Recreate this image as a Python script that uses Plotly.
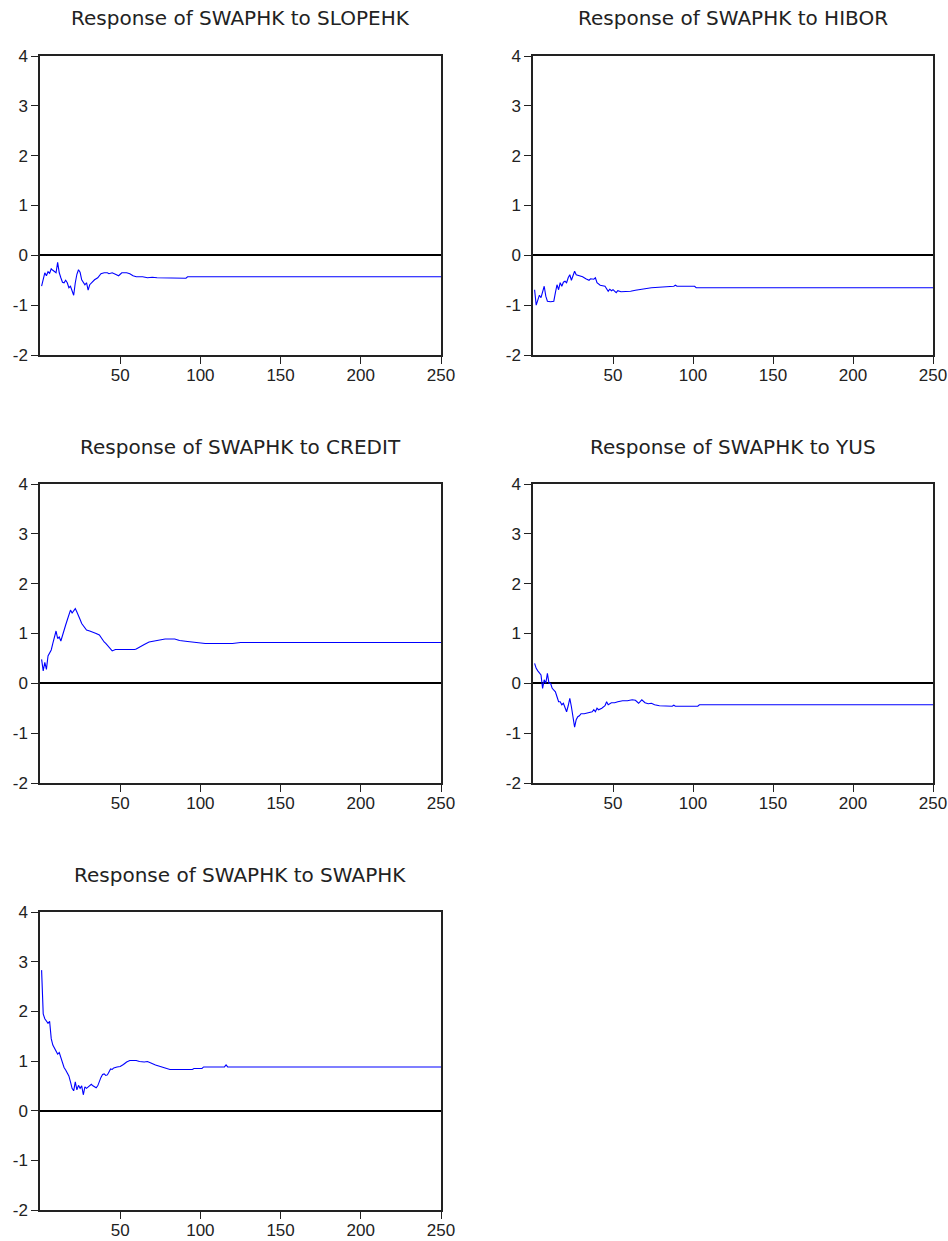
import plotly.graph_objects as go

# ---- data ----
slope_p = [1, 2, 3, 4, 5, 6, 7, 8, 9, 10, 11, 12, 13, 14, 15, 16, 17, 18, 19, 20, 21, 22, 23, 24, 25, 26, 27, 28, 29, 30,
           31, 32, 34, 36, 38, 40, 42, 43, 45, 47, 49, 51, 54, 56, 58, 60, 64, 67, 70, 73, 80, 91, 92, 250]
slope_v = [-0.62, -0.46, -0.35, -0.41, -0.33, -0.36, -0.27, -0.30, -0.32, -0.35, -0.14, -0.35, -0.45, -0.54, -0.55,
           -0.50, -0.55, -0.65, -0.62, -0.72, -0.80, -0.55, -0.38, -0.29, -0.34, -0.49, -0.55, -0.59, -0.55, -0.70,
           -0.59, -0.55, -0.49, -0.45, -0.37, -0.35, -0.35, -0.37, -0.35, -0.38, -0.41, -0.35, -0.35, -0.37, -0.41,
           -0.43, -0.43, -0.45, -0.44, -0.45, -0.45, -0.46, -0.43, -0.43]

hibor_p = [1, 2, 3, 4, 5, 6, 7, 8, 9, 11, 13, 14, 15, 16, 17, 18, 19, 20, 21, 22, 23, 24, 25, 26, 27, 29, 31, 33, 35,
           36, 38, 39, 40, 42, 45, 47, 48, 49, 50, 52, 53, 55, 58, 61, 64, 67, 70, 74, 78, 83, 88, 89, 90, 101, 102, 250]
hibor_v = [-0.69, -1.00, -0.90, -0.80, -0.85, -0.75, -0.62, -0.82, -0.92, -0.93, -0.92, -0.75, -0.59, -0.69, -0.55,
           -0.62, -0.54, -0.52, -0.55, -0.45, -0.39, -0.50, -0.39, -0.32, -0.39, -0.41, -0.43, -0.47, -0.50, -0.47,
           -0.48, -0.45, -0.55, -0.60, -0.62, -0.72, -0.68, -0.71, -0.69, -0.75, -0.71, -0.73, -0.73, -0.72, -0.70,
           -0.69, -0.67, -0.65, -0.64, -0.63, -0.62, -0.60, -0.62, -0.62, -0.65, -0.65]

credit_p = [1, 2, 3, 4, 5, 6, 7, 8, 9, 10, 11, 12, 13, 14, 15, 16, 17, 18, 19, 20, 21, 22, 23, 24, 25, 26, 27, 28, 29,
            31, 33, 35, 37, 38, 40, 41, 43, 45, 47, 49, 51, 53, 59, 60, 62, 65, 68, 72, 75, 78, 84, 87, 92, 97, 103,
            115, 120, 125, 250]
credit_v = [0.48, 0.25, 0.42, 0.28, 0.55, 0.62, 0.67, 0.80, 0.95, 1.05, 0.90, 0.93, 0.85, 0.97, 1.05, 1.17, 1.27, 1.37,
            1.47, 1.41, 1.47, 1.50, 1.43, 1.37, 1.28, 1.20, 1.15, 1.10, 1.07, 1.05, 1.03, 1.00, 0.97, 0.92, 0.83, 0.80,
            0.73, 0.65, 0.68, 0.68, 0.67, 0.68, 0.68, 0.69, 0.73, 0.78, 0.83, 0.85, 0.87, 0.89, 0.89, 0.86, 0.84, 0.82,
            0.80, 0.80, 0.80, 0.82, 0.82]

yus_p = [1, 2, 3, 4, 5, 6, 7, 8, 9, 10, 11, 12, 13, 14, 15, 16, 17, 18, 19, 20, 21, 22, 23, 24, 25, 26, 27, 28, 29, 30,
         32, 33, 34, 36, 37, 38, 39, 40, 41, 43, 45, 46, 47, 49, 51, 53, 56, 59, 62, 64, 66, 68, 70, 72, 74, 76, 79,
         87, 88, 89, 103, 104, 250]
yus_v = [0.40, 0.30, 0.25, 0.20, 0.17, -0.10, 0.07, 0.00, 0.20, 0.00, 0.00, -0.10, -0.13, -0.17, -0.27, -0.37, -0.37,
         -0.43, -0.40, -0.47, -0.57, -0.45, -0.30, -0.47, -0.70, -0.88, -0.73, -0.67, -0.65, -0.61, -0.61, -0.60,
         -0.59, -0.57, -0.57, -0.53, -0.57, -0.50, -0.53, -0.50, -0.45, -0.37, -0.43, -0.39, -0.39, -0.37, -0.35,
         -0.35, -0.33, -0.34, -0.40, -0.33, -0.39, -0.41, -0.40, -0.43, -0.45, -0.46, -0.44, -0.46, -0.46, -0.43, -0.43]

swap_p = [1, 2, 3, 4, 5, 6, 7, 8, 9, 10, 11, 12, 13, 14, 15, 16, 17, 18, 19, 20, 21, 22, 23, 24, 25, 26, 27, 28, 29,
          30, 31, 32, 33, 34, 35, 36, 37, 38, 39, 40, 41, 42, 43, 44, 45, 46, 48, 50, 52, 54, 56, 60, 62, 65, 67, 69,
          72, 75, 78, 81, 95, 96, 101, 102, 115, 116, 117, 250]
swap_v = [2.83, 1.95, 1.85, 1.80, 1.76, 1.80, 1.45, 1.32, 1.25, 1.18, 1.14, 1.17, 1.08, 0.95, 0.87, 0.82, 0.77, 0.70,
          0.58, 0.45, 0.40, 0.58, 0.42, 0.51, 0.45, 0.50, 0.32, 0.48, 0.45, 0.48, 0.52, 0.53, 0.50, 0.47, 0.46, 0.50,
          0.60, 0.67, 0.73, 0.74, 0.71, 0.72, 0.78, 0.84, 0.83, 0.86, 0.88, 0.89, 0.93, 0.98, 1.01, 1.01, 0.99, 0.98,
          0.99, 0.96, 0.92, 0.89, 0.86, 0.83, 0.83, 0.85, 0.85, 0.88, 0.88, 0.92, 0.88, 0.88]

titles = ["Response of SWAPHK to SLOPEHK", "Response of SWAPHK to HIBOR",
          "Response of SWAPHK to CREDIT", "Response of SWAPHK to YUS",
          "Response of SWAPHK to SWAPHK"]
x_ticks = [50, 100, 150, 200, 250]
y_ticks = [-2, -1, 0, 1, 2, 3, 4]
y_tick_text = ["-2", "-1", "0", "1", "2", "3", "4"]

series = [(slope_p, slope_v), (hibor_p, hibor_v), (credit_p, credit_v), (yus_p, yus_v), (swap_p, swap_v)]

# ---- layout geometry ----
W, H = 948, 1241
col_px = [(40, 441), (533, 933)]
row_px = [(56, 355), (484, 783), (912, 1210)]
title_y_px = [18, 447, 875]

FONT = "Liberation Sans, Arial, sans-serif"
TFONT = "DejaVu Sans, Verdana, sans-serif"
fig = go.Figure()
layout = dict(width=W, height=H, margin=dict(l=0, r=0, t=0, b=0, autoexpand=False),
              paper_bgcolor="white", plot_bgcolor="white", showlegend=False,
              font=dict(family=FONT, color="#111"))
annotations = []
for i, (px, vals) in enumerate(series):
    r, c = divmod(i, 2)
    n = i + 1
    xa = "x" if n == 1 else f"x{n}"
    ya = "y" if n == 1 else f"y{n}"
    fig.add_trace(go.Scatter(x=px, y=vals, mode="lines", line=dict(color="#0000FF", width=1.1),
                             xaxis=xa, yaxis=ya, hoverinfo="skip"))
    x0, x1 = col_px[c]
    y0, y1 = row_px[r]
    common = dict(showline=True, linecolor="#222", linewidth=1.5, mirror=True, ticks="outside",
                  ticklen=7, tickwidth=1.2, tickcolor="#222", showgrid=False, automargin=False,
                  tickfont=dict(size=17, family=FONT, color="#222"))
    layout["xaxis" if n == 1 else f"xaxis{n}"] = dict(
        domain=[x0 / W, x1 / W], range=[0, 250], tickvals=x_ticks, zeroline=False,
        ticklabelstandoff=-3, anchor=ya, **common)
    layout["yaxis" if n == 1 else f"yaxis{n}"] = dict(
        domain=[1 - y1 / H, 1 - y0 / H], range=[-2, 4], tickvals=y_ticks, ticktext=y_tick_text,
        zeroline=True, zerolinecolor="#000", zerolinewidth=1.5, anchor=xa, **common)
    annotations.append(dict(text=titles[i], x=(x0 + x1) / 2 / W, y=1 - title_y_px[r] / H,
                            xref="paper", yref="paper", xanchor="center", yanchor="middle",
                            showarrow=False, font=dict(size=20, family=TFONT, color="#222")))
layout["annotations"] = annotations
fig.update_layout(**layout)
fig.write_html("out.html", config={"displayModeBar": False},
               post_script="document.body.style.margin='0px';document.body.style.overflow='hidden';")
